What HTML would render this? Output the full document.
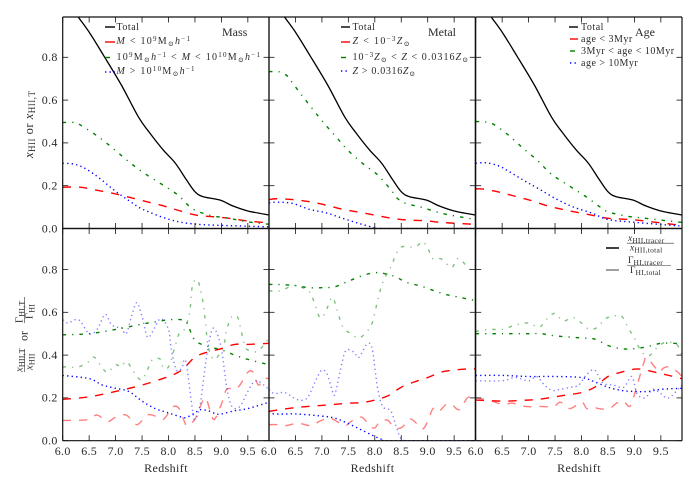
<!DOCTYPE html>
<html>
<head>
<meta charset="utf-8">
<style>
html,body{margin:0;padding:0;background:#fff;}
svg{display:block;}
text{font-family:"Liberation Serif","DejaVu Serif",serif;fill:#2a2a2a;}
.leg{font-size:10px;letter-spacing:.5px;}
.i{font-style:italic;}
</style>
</head>
<body>
<svg id="chart" width="696" height="480" viewBox="0 0 696 480" xmlns="http://www.w3.org/2000/svg">
<rect width="696" height="480" fill="#fff"/>
<g id="marks"></g>
<g id="axes"></g>

<text x="222" y="36" font-size="12">Mass</text>
<text x="428" y="36" font-size="12">Metal</text>
<text x="635" y="36" font-size="12">Age</text>

<g id="legends">
<g>
<line x1="105" x2="115" y1="27" y2="27" stroke="#000" stroke-width="1.4"/>
<text class="leg" x="116.5" y="30">Total</text>
<line x1="105" x2="115" y1="42" y2="42" stroke="#f00" stroke-width="1.4"/>
<text class="leg" x="116.5" y="44" textLength="74" lengthAdjust="spacing"><tspan class="i">M</tspan> &lt; 10<tspan dy="-3" font-size="7">9</tspan><tspan dy="3">M</tspan><tspan dy="2" font-size="7">⊙</tspan><tspan dy="-2" class="i">h</tspan><tspan dy="-3" font-size="7">−1</tspan></text>
<line x1="105" x2="110" y1="57.5" y2="57.5" stroke="#008000" stroke-width="1.4"/>
<text class="leg" x="116.5" y="60" textLength="144" lengthAdjust="spacing"><tspan>10</tspan><tspan dy="-3" font-size="7">9</tspan><tspan dy="3">M</tspan><tspan dy="2" font-size="7">⊙</tspan><tspan dy="-2" class="i">h</tspan><tspan dy="-3" font-size="7">−1</tspan><tspan dy="3"> &lt; </tspan><tspan class="i">M</tspan> &lt; 10<tspan dy="-3" font-size="7">10</tspan><tspan dy="3">M</tspan><tspan dy="2" font-size="7">⊙</tspan><tspan dy="-2" class="i">h</tspan><tspan dy="-3" font-size="7">−1</tspan></text>
<line x1="105" x2="115" y1="72" y2="72" stroke="#00f" stroke-width="1.4" stroke-dasharray="1.3 3.2"/>
<text class="leg" x="116.5" y="74" textLength="78.5" lengthAdjust="spacing"><tspan class="i">M</tspan> &gt; 10<tspan dy="-3" font-size="7">10</tspan><tspan dy="3">M</tspan><tspan dy="2" font-size="7">⊙</tspan><tspan dy="-2" class="i">h</tspan><tspan dy="-3" font-size="7">−1</tspan></text>
</g>
<g>
<line x1="341" x2="350" y1="27" y2="27" stroke="#000" stroke-width="1.4"/>
<text class="leg" x="352.5" y="30">Total</text>
<line x1="341" x2="350" y1="42" y2="42" stroke="#f00" stroke-width="1.4"/>
<text class="leg" x="352.5" y="44" textLength="57.5" lengthAdjust="spacing"><tspan class="i">Z</tspan> &lt; 10<tspan dy="-3" font-size="7">−3</tspan><tspan dy="3" class="i">Z</tspan><tspan dy="2" font-size="7">⊙</tspan></text>
<line x1="341" x2="346" y1="57.5" y2="57.5" stroke="#008000" stroke-width="1.4"/>
<text class="leg" x="352.5" y="60" textLength="116" lengthAdjust="spacing"><tspan>10</tspan><tspan dy="-3" font-size="7">−3</tspan><tspan dy="3" class="i">Z</tspan><tspan dy="2" font-size="7">⊙</tspan><tspan dy="-2"> &lt; </tspan><tspan class="i">Z</tspan> &lt; 0.0316<tspan class="i">Z</tspan><tspan dy="2" font-size="7">⊙</tspan></text>
<line x1="341" x2="350" y1="71" y2="71" stroke="#00f" stroke-width="1.4" stroke-dasharray="1.3 3.2"/>
<text class="leg" x="352.5" y="74" textLength="63" lengthAdjust="spacing"><tspan class="i">Z</tspan> &gt; 0.0316<tspan class="i">Z</tspan><tspan dy="2" font-size="7">⊙</tspan></text>
</g>
<g>
<line x1="569" x2="578" y1="27" y2="27" stroke="#000" stroke-width="1.4"/>
<text class="leg" x="581" y="30">Total</text>
<line x1="570" x2="578" y1="39" y2="39" stroke="#f00" stroke-width="1.4"/>
<text class="leg" x="581" y="42">age &lt; 3Myr</text>
<line x1="570" x2="575" y1="51" y2="51" stroke="#008000" stroke-width="1.4"/>
<text class="leg" x="581" y="54">3Myr &lt; age &lt; 10Myr</text>
<line x1="570" x2="578" y1="63" y2="63" stroke="#00f" stroke-width="1.4" stroke-dasharray="1.3 3.2"/>
<text class="leg" x="581" y="66">age &gt; 10Myr</text>
</g>
<g>
<line x1="606" x2="619" y1="248" y2="248" stroke="#000" stroke-width="1.5"/>
<text x="628" y="241" font-size="9.5"><tspan class="i">x</tspan><tspan dy="2" font-size="7.5" letter-spacing=".3">HII,tracer</tspan></text>
<line x1="627" x2="674" y1="243.2" y2="243.2" stroke="#333" stroke-width="0.6"/>
<text x="630" y="250.5" font-size="9.5"><tspan class="i">x</tspan><tspan dy="2" font-size="7.5" letter-spacing=".3">HII,total</tspan></text>
<line x1="606" x2="619" y1="270" y2="270" stroke="#808080" stroke-width="1.5"/>
<text x="628" y="263" font-size="9.5">Γ<tspan dy="2" font-size="7.5" letter-spacing=".3">HI,tracer</tspan></text>
<line x1="627" x2="671" y1="265.5" y2="265.5" stroke="#333" stroke-width="0.6"/>
<text x="630" y="273" font-size="9.5">Γ<tspan dy="2" font-size="7.5" letter-spacing=".3">HI,total</tspan></text>
</g>
</g>

<text transform="translate(33,158) rotate(-90)" font-size="12.5" letter-spacing=".5"><tspan class="i">x</tspan><tspan dy="2" font-size="9">HII</tspan><tspan dy="-2"> or </tspan><tspan class="i">x</tspan><tspan dy="2" font-size="9">HII,T</tspan></text>

<g transform="translate(24.5,372) rotate(-90)">
<text x="0" y="-2" font-size="10.5" letter-spacing=".2"><tspan class="i">x</tspan><tspan dy="2" font-size="8">HII,T</tspan></text>
<line x1="0" x2="23" y1="0" y2="0" stroke="#333" stroke-width="0.6"/>
<text x="2" y="8" font-size="10.5" letter-spacing=".2"><tspan class="i">x</tspan><tspan dy="2" font-size="8">HII</tspan></text>
<text x="31" y="3" font-size="12">or</text>
<text x="49" y="-2" font-size="10.5" letter-spacing=".2">Γ<tspan dy="2" font-size="8">HI,T</tspan></text>
<line x1="49" x2="75" y1="0" y2="0" stroke="#333" stroke-width="0.6"/>
<text x="53" y="8" font-size="10.5" letter-spacing=".2">Γ<tspan dy="2" font-size="8">HI</tspan></text>
</g>

<text x="166" y="472" font-size="12" letter-spacing=".4" text-anchor="middle">Redshift</text>
<text x="372.5" y="472" font-size="12" letter-spacing=".4" text-anchor="middle">Redshift</text>
<text x="579" y="472" font-size="12" letter-spacing=".4" text-anchor="middle">Redshift</text>
</svg>

<script>
// ---- tick labels ----
const xTickLabels = ["6.0","6.5","7.0","7.5","8.0","8.5","9.0","9.5"];
const yTickLabels = ["0.0","0.2","0.4","0.6","0.8"];

// ---- total reionization curve (same in every top panel) ----
const zTotal = [6.0,6.295,6.515,6.77,7.11,7.43,7.65,7.9,8.13,8.34,8.5,8.65,8.97,9.22,9.5,9.9];
const xTotal = [1.09,0.988,0.912,0.81,0.67,0.522,0.445,0.367,0.305,0.227,0.172,0.149,0.133,0.105,0.082,0.063];

// ---- top row, Mass ----
const zMassLowTop = [6,6.33,6.64,6.96,7.27,7.58,7.9,8.21,8.53,8.84,9.16,9.47,9.9];
const xMassLowTop = [0.193,0.193,0.179,0.164,0.145,0.126,0.106,0.083,0.062,0.055,0.047,0.036,0.026];
const zMassMidTop = [6,6.23,6.39,6.7,6.99,7.27,7.55,7.87,8.18,8.45,8.78,9.16,9.5,9.9];
const xMassMidTop = [0.495,0.495,0.475,0.424,0.366,0.308,0.257,0.207,0.156,0.093,0.062,0.047,0.031,0.02];
const zMassHighTop = [6,6.23,6.45,6.7,6.99,7.33,7.52,8.02,8.53,9.47,9.9];
const xMassHighTop = [0.305,0.3,0.277,0.234,0.176,0.117,0.089,0.042,0.02,0.011,0.008];

// ---- top row, Metal ----
const zMetalLowTop = [6,6.14,6.45,6.77,7.08,7.4,7.71,8.03,8.34,8.65,8.97,9.28,9.85,9.9];
const xMetalLowTop = [0.135,0.139,0.135,0.125,0.109,0.089,0.076,0.061,0.047,0.039,0.036,0.028,0.02,0.02];
const zMetalMidTop = [6,6.2,6.36,6.45,6.67,7.02,7.27,7.49,7.77,8.06,8.31,8.43,8.59,8.9,9.28,9.85,9.9];
const xMetalMidTop = [0.733,0.732,0.71,0.678,0.607,0.498,0.428,0.366,0.304,0.249,0.179,0.14,0.117,0.098,0.07,0.044,0.04];
const zMetalHighTop = [6,6.17,6.45,6.77,7.08,7.4,7.71,8,8.1,9.9];
const xMetalHighTop = [0.12,0.123,0.117,0.089,0.073,0.047,0.023,0.003,0,0];

// ---- top row, Age ----
const zAgeLowTop = [6,6.15,6.43,6.71,7.03,7.34,7.65,7.97,8.28,8.53,8.91,9.23,9.85,9.9];
const xAgeLowTop = [0.185,0.184,0.171,0.153,0.132,0.107,0.089,0.073,0.058,0.047,0.042,0.034,0.016,0.015];
const zAgeMidTop = [6,6.15,6.33,6.62,6.9,7.18,7.43,7.75,8.06,8.35,8.5,8.85,9.23,9.8,9.9];
const xAgeMidTop = [0.5,0.498,0.488,0.436,0.374,0.315,0.254,0.202,0.153,0.101,0.078,0.058,0.047,0.031,0.03];
const zAgeHighTop = [6,6.2,6.43,6.62,6.9,7.18,7.53,7.84,8.22,8.5,9.04,9.85,9.9];
const xAgeHighTop = [0.305,0.307,0.293,0.268,0.226,0.187,0.137,0.101,0.07,0.042,0.028,0.012,0.011];

// ---- bottom row, Mass: ionized-fraction ratios ----
const zMassLowX = [6,6.5,7,7.5,8,8.25,8.5,8.75,9,9.25,9.5,9.9];
const rMassLowX = [0.193,0.205,0.23,0.26,0.3,0.33,0.39,0.415,0.43,0.45,0.45,0.455];
const zMassMidX = [6,6.5,7,7.5,7.75,8,8.25,8.35,8.5,8.75,9,9.25,9.5,9.9];
const rMassMidX = [0.495,0.5,0.52,0.545,0.555,0.565,0.565,0.55,0.47,0.44,0.425,0.4,0.38,0.355];
const zMassHighX = [6,6.5,6.75,7,7.25,7.5,7.75,8,8.25,8.35,8.5,8.6,8.75,8.9,9,9.25,9.5,9.9];
const rMassHighX = [0.305,0.29,0.26,0.245,0.23,0.185,0.15,0.13,0.11,0.11,0.13,0.145,0.14,0.125,0.125,0.14,0.15,0.18];

// ---- bottom row, Mass: photoionization ratios ----
const zMassLowG = [6,6.25,6.5,6.65,6.85,7,7.2,7.4,7.6,7.75,7.9,8,8.1,8.2,8.3,8.35,8.5,8.6,8.7,8.8,8.87,9,9.1,9.25,9.35,9.5,9.6,9.7,9.8,9.9];
const rMassLowG = [0.095,0.095,0.1,0.12,0.09,0.11,0.12,0.075,0.12,0.115,0.1,0.13,0.16,0.15,0.09,0.07,0.1,0.16,0.2,0.13,0.1,0.17,0.24,0.24,0.26,0.32,0.32,0.26,0.29,0.29];
const zMassMidG = [6,6.1,6.3,6.5,6.6,6.75,6.85,7,7.1,7.2,7.3,7.4,7.5,7.6,7.7,7.85,7.9,8,8.1,8.2,8.3,8.4,8.45,8.55,8.65,8.7,8.75,8.85,8.95,9.05,9.1,9.2,9.3,9.35,9.45,9.55,9.7,9.9];
const rMassMidG = [0.345,0.345,0.345,0.37,0.39,0.34,0.32,0.355,0.345,0.37,0.34,0.3,0.285,0.33,0.38,0.38,0.34,0.345,0.42,0.5,0.52,0.6,0.72,0.75,0.65,0.55,0.44,0.38,0.4,0.45,0.52,0.58,0.58,0.54,0.44,0.42,0.42,0.48];
const zMassHighG = [6,6.1,6.3,6.5,6.65,6.8,6.9,7,7.1,7.2,7.3,7.4,7.5,7.6,7.7,7.85,8,8.05,8.15,8.25,8.3,8.35,8.45,8.5,8.6,8.7,8.8,8.88,9,9.1,9.2,9.35,9.5,9.65,9.85,9.9];
const rMassHighG = [0.565,0.55,0.565,0.5,0.52,0.59,0.55,0.53,0.53,0.5,0.58,0.645,0.58,0.485,0.51,0.57,0.52,0.43,0.33,0.34,0.38,0.34,0.15,0.1,0.17,0.36,0.5,0.52,0.43,0.25,0.16,0.16,0.23,0.28,0.25,0.23];

// ---- bottom row, Metal: ionized-fraction ratios ----
const zMetalLowX = [6,6.5,7,7.5,7.75,8,8.25,8.5,8.75,9,9.25,9.5,9.75,9.9];
const rMetalLowX = [0.137,0.155,0.165,0.175,0.178,0.19,0.21,0.25,0.275,0.295,0.32,0.33,0.335,0.335];
const zMetalMidX = [6,6.15,6.5,6.75,7,7.25,7.5,7.75,8,8.2,8.4,8.6,8.9,9.25,9.5,9.9];
const rMetalMidX = [0.73,0.73,0.725,0.715,0.715,0.72,0.745,0.77,0.785,0.78,0.765,0.74,0.72,0.69,0.675,0.655];
const zMetalHighX = [6,6.1,6.5,7,7.25,7.5,7.75,8,8.15,8.3,9.9];
const rMetalHighX = [0.137,0.125,0.125,0.115,0.105,0.08,0.05,0.02,0.005,0,0];

// ---- bottom row, Metal: photoionization ratios ----
const zMetalLowG = [6,6.15,6.3,6.5,6.6,6.8,6.95,7.15,7.35,7.45,7.55,7.75,7.9,8,8.1,8.25,8.35,8.5,8.65,8.75,8.9,9,9.1,9.2,9.35,9.45,9.6,9.75,9.9];
const rMetalLowG = [0.075,0.075,0.07,0.08,0.08,0.07,0.09,0.105,0.08,0.07,0.09,0.11,0.07,0.06,0.09,0.095,0.065,0.06,0.1,0.09,0.055,0.09,0.15,0.135,0.17,0.17,0.145,0.2,0.21];
const zMetalMidG = [6,6.2,6.4,6.5,6.75,6.85,6.95,7.02,7.1,7.2,7.3,7.4,7.55,7.7,7.85,7.95,8.05,8.15,8.3,8.4,8.5,8.7,8.8,8.9,9,9.1,9.25,9.45,9.55,9.65,9.8,9.9];
const rMetalMidG = [0.7,0.7,0.72,0.725,0.7,0.65,0.58,0.58,0.62,0.67,0.6,0.53,0.5,0.48,0.51,0.55,0.65,0.74,0.81,0.87,0.905,0.905,0.91,0.93,0.9,0.85,0.85,0.81,0.85,0.84,0.8,0.82];
const zMetalHighG = [6,6.1,6.3,6.5,6.65,6.75,6.9,7,7.1,7.2,7.25,7.35,7.45,7.6,7.7,7.85,7.95,8.05,8.15,8.3,8.4,8.5,8.7,9.9];
const rMetalHighG = [0.24,0.22,0.225,0.195,0.19,0.21,0.29,0.33,0.31,0.23,0.22,0.33,0.42,0.415,0.39,0.45,0.43,0.25,0.16,0.14,0.07,0.01,0,0];

// ---- bottom row, Age: ionized-fraction ratios ----
const zAgeLowX = [6,6.5,7,7.25,7.5,7.75,8,8.25,8.5,8.75,8.91,9.1,9.48,9.9];
const rAgeLowX = [0.19,0.185,0.19,0.195,0.205,0.215,0.225,0.25,0.3,0.32,0.33,0.335,0.315,0.29];
const zAgeMidX = [6,6.5,7,7.25,7.5,8,8.25,8.5,8.75,9,9.25,9.5,9.75,9.9];
const rAgeMidX = [0.5,0.5,0.5,0.5,0.49,0.48,0.475,0.445,0.43,0.43,0.44,0.455,0.455,0.45];
const zAgeHighX = [6,6.5,7,7.5,8,8.25,8.5,8.75,9,9.25,9.5,9.9];
const rAgeHighX = [0.305,0.305,0.3,0.3,0.295,0.275,0.25,0.235,0.23,0.23,0.24,0.245];

// ---- bottom row, Age: photoionization ratios ----
const zAgeLowG = [6,6.25,6.5,6.7,6.93,7.18,7.47,7.6,7.78,8,8.1,8.22,8.38,8.53,8.66,8.79,8.91,9,9.16,9.23,9.35,9.48,9.54,9.67,9.82,9.9];
const rAgeLowG = [0.2,0.19,0.17,0.175,0.16,0.16,0.16,0.18,0.15,0.18,0.15,0.155,0.148,0.15,0.175,0.185,0.16,0.215,0.35,0.39,0.355,0.32,0.338,0.345,0.32,0.3];
const zAgeMidG = [6,6.25,6.5,6.75,7,7.2,7.35,7.5,7.65,7.85,8,8.15,8.3,8.45,8.6,8.75,8.9,9,9.1,9.2,9.3,9.45,9.6,9.8,9.9];
const rAgeMidG = [0.51,0.52,0.52,0.54,0.55,0.53,0.57,0.595,0.56,0.575,0.55,0.52,0.53,0.57,0.58,0.585,0.52,0.48,0.43,0.4,0.4,0.44,0.46,0.45,0.4];
const zAgeHighG = [6,6.5,6.75,7,7.15,7.3,7.45,7.6,7.8,7.95,8.1,8.25,8.4,8.6,8.8,8.95,9.05,9.2,9.35,9.5,9.65,9.9];
const rAgeHighG = [0.28,0.28,0.295,0.28,0.3,0.26,0.235,0.24,0.25,0.26,0.31,0.33,0.27,0.26,0.25,0.3,0.22,0.2,0.24,0.22,0.2,0.26];

// ---- axis functions ----
const panelLeft = [62.7, 269, 475.7];
const rowZero = [228.5, 440.7];
const rowTop = [17, 228.5];
const panelWidth = 206.3;
const pxPerZ = panelWidth / 3.9;
const pxPerVal = 214;
function xOf(panel, z) { return panelLeft[panel] + (z - 6) * pxPerZ; }
function yOf(row, v) { return rowZero[row] - v * pxPerVal; }

const NS = "http://www.w3.org/2000/svg";
const marks = document.getElementById("marks");
const axes = document.getElementById("axes");
const svg = document.getElementById("chart");

function smoothPath(p) {
  let d = "M" + p[0][0].toFixed(2) + " " + p[0][1].toFixed(2);
  for (let i = 0; i < p.length - 1; i++) {
    const a = p[Math.max(i - 1, 0)], b = p[i], c = p[i + 1], e = p[Math.min(i + 2, p.length - 1)];
    const c1x = b[0] + (c[0] - a[0]) / 6, c1y = b[1] + (c[1] - a[1]) / 6;
    const c2x = c[0] - (e[0] - b[0]) / 6, c2y = c[1] - (e[1] - b[1]) / 6;
    d += "C" + c1x.toFixed(2) + " " + c1y.toFixed(2) + " " + c2x.toFixed(2) + " " + c2y.toFixed(2) + " " + c[0].toFixed(2) + " " + c[1].toFixed(2);
  }
  return d;
}

const styles = {
  total: { color: "#000", dash: "", width: 1.3 },
  low: { color: "#f00", dash: "8.3 8", width: 1.4 },
  mid: { color: "#008000", dash: "3.5 6 1.2 6", width: 1.4 },
  high: { color: "#00f", dash: "1.3 3.2", width: 1.4 }
};

// clip regions
const defs = document.createElementNS(NS, "defs");
svg.insertBefore(defs, svg.firstChild);
[0, 1].forEach(function (row) {
  [0, 1, 2].forEach(function (panel) {
    const cp = document.createElementNS(NS, "clipPath");
    cp.setAttribute("id", "clip-" + row + "-" + panel);
    const r = document.createElementNS(NS, "rect");
    r.setAttribute("x", panelLeft[panel]);
    r.setAttribute("y", rowTop[row]);
    r.setAttribute("width", panelWidth);
    r.setAttribute("height", rowZero[row] - rowTop[row]);
    cp.appendChild(r);
    defs.appendChild(cp);
  });
});

function drawSeries(name, row, panel, zs, vs, style, opacity) {
  const pts = zs.map(function (z, i) { return [xOf(panel, z), yOf(row, vs[i])]; });
  const path = document.createElementNS(NS, "path");
  
  
  path.setAttribute("d", smoothPath(pts));
  path.setAttribute("fill", "none");
  path.setAttribute("stroke", style.color);
  path.setAttribute("stroke-width", style.width);
  path.setAttribute("stroke-linejoin", "round");
  if (style.dash) path.setAttribute("stroke-dasharray", style.dash);
  if (opacity < 1) path.setAttribute("stroke-opacity", opacity);
  path.setAttribute("clip-path", "url(#clip-" + row + "-" + panel + ")");
  marks.appendChild(path);
}

// top row
[0, 1, 2].forEach(function (p) {
  drawSeries(["mass", "metal", "age"][p] + "-total-line", 0, p, zTotal, xTotal, styles.total, 1);
});
drawSeries("mass-low-line", 0, 0, zMassLowTop, xMassLowTop, styles.low, 1);
drawSeries("mass-mid-line", 0, 0, zMassMidTop, xMassMidTop, styles.mid, 1);
drawSeries("mass-high-line", 0, 0, zMassHighTop, xMassHighTop, styles.high, 1);
drawSeries("metal-low-line", 0, 1, zMetalLowTop, xMetalLowTop, styles.low, 1);
drawSeries("metal-mid-line", 0, 1, zMetalMidTop, xMetalMidTop, styles.mid, 1);
drawSeries("metal-high-line", 0, 1, zMetalHighTop, xMetalHighTop, styles.high, 1);
drawSeries("age-low-line", 0, 2, zAgeLowTop, xAgeLowTop, styles.low, 1);
drawSeries("age-mid-line", 0, 2, zAgeMidTop, xAgeMidTop, styles.mid, 1);
drawSeries("age-high-line", 0, 2, zAgeHighTop, xAgeHighTop, styles.high, 1);

// bottom row, photoionization ratios (faded)
drawSeries("mass-low-gamma-ratio", 1, 0, zMassLowG, rMassLowG, styles.low, 0.5);
drawSeries("mass-mid-gamma-ratio", 1, 0, zMassMidG, rMassMidG, styles.mid, 0.5);
drawSeries("mass-high-gamma-ratio", 1, 0, zMassHighG, rMassHighG, styles.high, 0.5);
drawSeries("metal-low-gamma-ratio", 1, 1, zMetalLowG, rMetalLowG, styles.low, 0.5);
drawSeries("metal-mid-gamma-ratio", 1, 1, zMetalMidG, rMetalMidG, styles.mid, 0.5);
drawSeries("metal-high-gamma-ratio", 1, 1, zMetalHighG, rMetalHighG, styles.high, 0.5);
drawSeries("age-low-gamma-ratio", 1, 2, zAgeLowG, rAgeLowG, styles.low, 0.5);
drawSeries("age-mid-gamma-ratio", 1, 2, zAgeMidG, rAgeMidG, styles.mid, 0.5);
drawSeries("age-high-gamma-ratio", 1, 2, zAgeHighG, rAgeHighG, styles.high, 0.5);

// bottom row, ionized-fraction ratios
drawSeries("mass-low-x-ratio", 1, 0, zMassLowX, rMassLowX, styles.low, 1);
drawSeries("mass-mid-x-ratio", 1, 0, zMassMidX, rMassMidX, styles.mid, 1);
drawSeries("mass-high-x-ratio", 1, 0, zMassHighX, rMassHighX, styles.high, 1);
drawSeries("metal-low-x-ratio", 1, 1, zMetalLowX, rMetalLowX, styles.low, 1);
drawSeries("metal-mid-x-ratio", 1, 1, zMetalMidX, rMetalMidX, styles.mid, 1);
drawSeries("metal-high-x-ratio", 1, 1, zMetalHighX, rMetalHighX, styles.high, 1);
drawSeries("age-low-x-ratio", 1, 2, zAgeLowX, rAgeLowX, styles.low, 1);
drawSeries("age-mid-x-ratio", 1, 2, zAgeMidX, rAgeMidX, styles.mid, 1);
drawSeries("age-high-x-ratio", 1, 2, zAgeHighX, rAgeHighX, styles.high, 1);

function seg(x1, y1, x2, y2, w, name) {
  const l = document.createElementNS(NS, "line");
  
  
  l.setAttribute("x1", x1);
  l.setAttribute("y1", y1);
  l.setAttribute("x2", x2);
  l.setAttribute("y2", y2);
  l.setAttribute("stroke", "#111");
  l.setAttribute("stroke-width", w);
  axes.appendChild(l);
}
function label(x, y, s, anchor, name) {
  const t = document.createElementNS(NS, "text");
  
  
  t.setAttribute("x", x);
  t.setAttribute("y", y);
  t.setAttribute("font-size", "12");
  t.setAttribute("letter-spacing", ".3");
  t.setAttribute("text-anchor", anchor);
  t.textContent = s;
  axes.appendChild(t);
}

const tickLen = 5.5;
[0, 1].forEach(function (row) {
  [0, 1, 2].forEach(function (panel) {
    const L = panelLeft[panel], R = L + panelWidth, T = rowTop[row], B = rowZero[row];
    seg(L, T, R, T, 1.2, "panel-spine-top");
    seg(L, B, R, B, 1.2, "panel-spine-bottom");
    seg(L, T, L, B, 1.2, "panel-spine-left");
    seg(R, T, R, B, 1.2, "panel-spine-right");
    xTickLabels.forEach(function (lab) {
      const x = xOf(panel, parseFloat(lab));
      seg(x, T, x, T + tickLen, 0.8, "x-tick-top");
      seg(x, B, x, B - tickLen, 0.8, "x-tick-bottom");
      if (row === 1) label(x, 455, lab, "middle", "x-tick-label");
    });
    yTickLabels.forEach(function (lab) {
      const y = yOf(row, parseFloat(lab));
      seg(L, y, L + tickLen, y, 0.8, "y-tick-left");
      seg(R, y, R - tickLen, y, 0.8, "y-tick-right");
      if (panel === 0) label(L - 5, y + 3.8, lab, "end", "y-tick-label");
    });
  });
});
</script>
</body>
</html>
